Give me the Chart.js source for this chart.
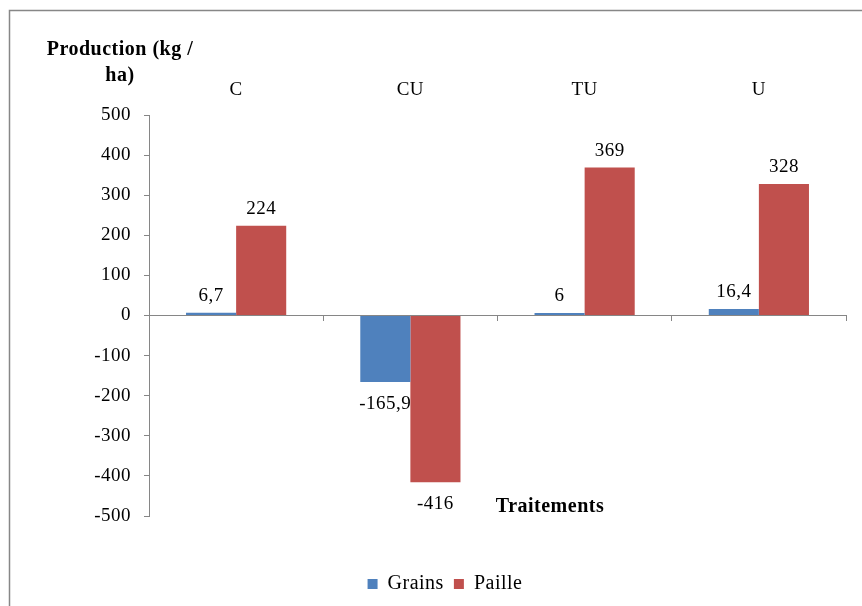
<!DOCTYPE html>
<html>
<head>
<meta charset="utf-8">
<script src="https://cdn.jsdelivr.net/npm/chart.js@4.4.1/dist/chart.umd.min.js"></script>
<style>
html,body{margin:0;padding:0;background:#fff;}
#wrap{position:relative;width:862px;height:606px;}
</style>
</head>
<body>
<div id="wrap"><canvas id="c" width="862" height="606"></canvas></div>
<script>
const categories = ["C", "CU", "TU", "U"];
const grains = [6.7, -165.9, 6, 16.4];
const paille = [224, -416, 369, 328];
const grainsLabels = ["6,7", "-165,9", "6", "16,4"];
const pailleLabels = ["224", "-416", "369", "328"];
const yTicks = [500, 400, 300, 200, 100, 0, -100, -200, -300, -400, -500];

const FONT = "'Liberation Serif', 'Times New Roman', serif";
const AXIS_GRAY = "#868686";
const SPACING = '0.5px';

const framePlugin = {
  id: 'frame',
  beforeInit(chart) { chart.ctx.letterSpacing = SPACING; },
  beforeUpdate(chart) { chart.ctx.letterSpacing = SPACING; },
  beforeDraw(chart) {
    const ctx = chart.ctx;
    ctx.letterSpacing = SPACING;
    ctx.save();
    ctx.fillStyle = '#fff';
    ctx.fillRect(0, 0, chart.width, chart.height);
    ctx.strokeStyle = '#878787';
    ctx.lineWidth = 1.5;
    ctx.strokeRect(9.5, 10.5, 1000, 1000);
    ctx.restore();
  },
  afterDraw(chart) {
    const ctx = chart.ctx;
    ctx.save();
    ctx.letterSpacing = SPACING;
    ctx.fillStyle = '#000';
    ctx.font = "bold 20px " + FONT;
    ctx.textAlign = 'center';
    ctx.textBaseline = 'alphabetic';
    ctx.fillText("Production (kg /", 120, 55);
    ctx.fillText("ha)", 120, 81);
    ctx.fillText("Traitements", 550, 512);
    // data labels
    ctx.font = "19px " + FONT;
    const labelSets = [grainsLabels, pailleLabels];
    chart.data.datasets.forEach((ds, di) => {
      const meta = chart.getDatasetMeta(di);
      meta.data.forEach((bar, i) => {
        const v = ds.data[i];
        const y = v >= 0 ? bar.y - 12 : bar.y + 27;
        ctx.fillText(labelSets[di][i], bar.x, y);
      });
    });
    ctx.restore();
  }
};

new Chart(document.getElementById('c'), {
  type: 'bar',
  data: {
    labels: categories,
    datasets: [
      { label: 'Grains', data: grains, backgroundColor: '#4F81BD', borderWidth: 0 },
      { label: 'Paille', data: paille, backgroundColor: '#C0504D', borderWidth: 0 }
    ]
  },
  options: {
    responsive: false,
    animation: false,
    devicePixelRatio: 1,
    categoryPercentage: 0.575,
    barPercentage: 1.0,
    layout: { padding: { left: 44, right: 16, top: 0, bottom: 2 } },
    plugins: {
      legend: {
        position: 'bottom',
        labels: {
          boxWidth: 10, boxHeight: 10, padding: 10,
          color: '#000',
          font: { family: FONT, size: 20 }
        }
      },
      tooltip: { enabled: false },
      title: { display: false }
    },
    scales: {
      x: {
        position: 'top',
        offset: true,
        grid: { display: false, drawTicks: false },
        border: { display: false },
        ticks: { color: '#000', padding: 14, font: { family: FONT, size: 19 } },
        afterFit(s) { s.height = 115; }
      },
      x2: {
        type: 'category',
        labels: categories,
        position: { y: 0 },
        offset: true,
        grid: { offset: true, drawOnChartArea: false, drawTicks: true, tickLength: 5, color: AXIS_GRAY },
        border: { display: true, color: AXIS_GRAY, width: 1 },
        ticks: { display: false }
      },
      x3: {
        type: 'category',
        labels: categories,
        position: 'bottom',
        grid: { display: false, drawTicks: false },
        border: { display: false },
        ticks: { display: false },
        afterFit(s) { s.height = 48; }
      },
      y: {
        min: -500, max: 500,
        afterBuildTicks(s) { s.ticks = yTicks.map(v => ({ value: v })); },
        grid: { drawOnChartArea: false, drawTicks: true, tickLength: 5, color: AXIS_GRAY },
        border: { display: true, color: AXIS_GRAY, width: 1 },
        ticks: { color: '#000', padding: 13, font: { family: FONT, size: 19 } },
        afterFit(s) { s.width = 105; }
      }
    }
  },
  plugins: [framePlugin]
});
</script>
</body>
</html>
